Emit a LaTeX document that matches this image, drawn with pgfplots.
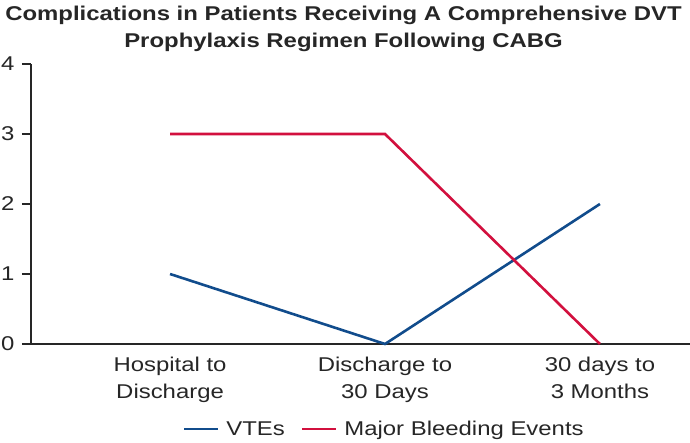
\documentclass[border=0pt]{standalone}
\usepackage{fontspec}
\setmainfont{Liberation Sans}[FakeStretch=1.2]
\usepackage{pgfplots}
\pgfplotsset{compat=1.18}
\definecolor{vteblue}{HTML}{114C8C}
\definecolor{bleedred}{HTML}{D2103E}
\begin{document}
\begin{tikzpicture}
\path[use as bounding box] (-31bp,-99bp) rectangle (659bp,344bp);
\begin{axis}[
  at={(0,0)}, anchor=south west,
  scale only axis,
  width=659bp, height=280bp,
  xmin=-0.647, xmax=2.419,
  ymin=0, ymax=4,
  axis x line=bottom, axis y line=left,
  axis line style={-, line width=2.2bp, black!85},
  xtick={0,1,2},
  xticklabels={{Hospital to\\Discharge},{Discharge to\\30 Days},{30 days to\\3 Months}},
  x tick label style={align=center, font=\fontsize{20}{27}\selectfont, text=black!85, yshift=-1bp},
  x tick style={draw=none},
  ytick={0,1,2,3,4},
  y tick label style={font=\fontsize{20}{27}\selectfont, text=black!85, xshift=-4bp},
  /pgf/number format/assume math mode=true,
  tick align=outside,
  major tick length=9bp,
  y tick style={line width=2bp, black!85},
  clip=false,
  title={Complications in Patients Receiving A Comprehensive DVT\\Prophylaxis Regimen Following CABG},
  title style={align=center, font=\bfseries\fontsize{20}{27}\selectfont, text=black!85,
    at={(axis description cs:0.5,1)}, anchor=center, yshift=29bp, xshift=-17bp},
  legend columns=2,
  legend style={draw=none, fill=none, at={(axis description cs:0.536,0)}, anchor=center, yshift=-85bp,
    font=\fontsize{20}{27}\selectfont, text=black!85,
    /tikz/every even column/.append style={column sep=14bp}},
  legend image code/.code={\draw[#1, line width=2.6bp] (0bp,0bp) -- (34bp,0bp); \path (39bp,0bp);},
]
\addplot[vteblue, line width=2.6bp] coordinates {(0,1) (1,0) (2,2)};
\addlegendentry{VTEs}
\addplot[bleedred, line width=2.6bp] coordinates {(0,3) (1,3) (2,0)};
\addlegendentry{Major Bleeding Events}
\end{axis}
\end{tikzpicture}
\end{document}
